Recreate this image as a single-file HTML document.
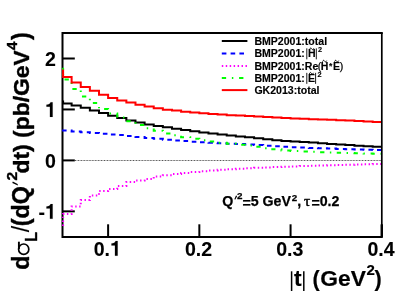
<!DOCTYPE html>
<html><head><meta charset="utf-8"><title>plot</title><style>html,body{margin:0;padding:0;background:#fff;}text{stroke:#000;stroke-width:0.4px;stroke-linejoin:round}.sm text{stroke-width:0.15px}.md text{stroke-width:0.25px}.tl text{stroke-width:0.1px}body{width:415px;height:291px;overflow:hidden;position:relative;font-family:"Liberation Sans",sans-serif;}</style></head><body>
<svg width="415" height="291" viewBox="0 0 415 291" style="position:absolute;left:0;top:0;will-change:transform;font-family:'Liberation Sans',sans-serif;font-weight:bold" stroke="none">
<rect width="415" height="291" fill="#fff"/>
<path d="M381.8,33.1 L62.5,33.1 L62.5,237.0 L381.8,237.0" fill="none" stroke="#000" stroke-width="2" stroke-linecap="square"/>
<line x1="75" y1="160.5" x2="381.8" y2="160.5" stroke="#c4c4c4" stroke-width="1"/>
<line x1="75" y1="160.5" x2="381.8" y2="160.5" stroke="#555" stroke-width="1" stroke-dasharray="1 1.9"/>
<line x1="62.5" y1="58.50" x2="74.8" y2="58.50" stroke="#000" stroke-width="2"/>
<line x1="62.5" y1="109.45" x2="74.8" y2="109.45" stroke="#000" stroke-width="2"/>
<line x1="62.5" y1="160.40" x2="74.8" y2="160.40" stroke="#000" stroke-width="2"/>
<line x1="62.5" y1="211.35" x2="74.8" y2="211.35" stroke="#000" stroke-width="2"/>
<line x1="108.11" y1="237.0" x2="108.11" y2="224.3" stroke="#000" stroke-width="2"/>
<line x1="199.34" y1="237.0" x2="199.34" y2="224.3" stroke="#000" stroke-width="2"/>
<line x1="290.57" y1="237.0" x2="290.57" y2="224.3" stroke="#000" stroke-width="2"/>
<line x1="381.80" y1="237.0" x2="381.80" y2="224.3" stroke="#000" stroke-width="2"/>
<clipPath id="c"><rect x="61.5" y="33.1" width="320.3" height="203.9"/></clipPath>
<line x1="63.1" y1="67.8" x2="63.1" y2="70" stroke="#00ff00" stroke-width="2"/>
<path d="M63.10,100.50 L63.10,103.40 L71.62,103.40 L71.62,105.60 L80.75,105.60 L80.75,107.80 L89.87,107.80 L89.87,110.40 L98.99,110.40 L98.99,113.10 L108.11,113.10 L108.11,115.80 L117.24,115.80 L117.24,117.90 L126.36,117.90 L126.36,120.50 L135.48,120.50 L135.48,122.50 L144.61,122.50 L144.61,124.50 L153.73,124.50 L153.73,125.90 L162.85,125.90 L162.85,127.20 L171.97,127.20 L171.97,128.70 L181.10,128.70 L181.10,130.02 L190.22,130.02 L190.22,131.26 L199.34,131.26 L199.34,132.42 L208.47,132.42 L208.47,133.52 L217.59,133.52 L217.59,134.54 L226.71,134.54 L226.71,135.52 L235.83,135.52 L235.83,136.43 L244.96,136.43 L244.96,137.30 L254.08,137.30 L254.08,138.29 L263.20,138.29 L263.20,139.23 L272.33,139.23 L272.33,140.13 L281.45,140.13 L281.45,141.00 L290.57,141.00 L290.57,141.56 L299.69,141.56 L299.69,142.10 L308.82,142.10 L308.82,142.60 L317.94,142.60 L317.94,143.26 L327.06,143.26 L327.06,143.89 L336.19,143.89 L336.19,144.50 L345.31,144.50 L345.31,145.09 L354.43,145.09 L354.43,145.66 L363.55,145.66 L363.55,146.22 L372.68,146.22 L372.68,146.75 L381.80,146.75" fill="none" stroke="#000" stroke-width="2" clip-path="url(#c)"/>
<path d="M63.10,129.50 L63.10,130.60 L71.62,130.60 L71.62,131.40 L80.75,131.40 L80.75,132.20 L89.87,132.20 L89.87,132.98 L98.99,132.98 L98.99,133.75 L108.11,133.75 L108.11,134.50 L117.24,134.50 L117.24,135.00 L126.36,135.00 L126.36,136.02 L135.48,136.02 L135.48,137.02 L144.61,137.02 L144.61,138.00 L153.73,138.00 L153.73,138.85 L162.85,138.85 L162.85,139.69 L171.97,139.69 L171.97,140.50 L181.10,140.50 L181.10,141.08 L190.22,141.08 L190.22,141.63 L199.34,141.63 L199.34,142.17 L208.47,142.17 L208.47,142.68 L217.59,142.68 L217.59,143.17 L226.71,143.17 L226.71,143.63 L235.83,143.63 L235.83,144.08 L244.96,144.08 L244.96,144.50 L254.08,144.50 L254.08,145.09 L263.20,145.09 L263.20,145.67 L272.33,145.67 L272.33,146.22 L281.45,146.22 L281.45,146.75 L290.57,146.75 L290.57,147.16 L299.69,147.16 L299.69,147.55 L308.82,147.55 L308.82,147.92 L317.94,147.92 L317.94,148.27 L327.06,148.27 L327.06,148.60 L336.19,148.60 L336.19,148.91 L345.31,148.91 L345.31,149.21 L354.43,149.21 L354.43,149.49 L363.55,149.49 L363.55,149.75 L372.68,149.75 L372.68,150.00 L381.80,150.00" fill="none" stroke="#0000ff" stroke-width="2" stroke-dasharray="4.6 4.2" stroke-dashoffset="0" clip-path="url(#c)"/>
<path d="M63.10,226.00 L63.10,214.00 L71.62,214.00 L71.62,206.50 L80.75,206.50 L80.75,200.00 L89.87,200.00 L89.87,195.50 L98.99,195.50 L98.99,191.00 L108.11,191.00 L108.11,189.00 L117.24,189.00 L117.24,186.00 L126.36,186.00 L126.36,182.00 L135.48,182.00 L135.48,180.50 L144.61,180.50 L144.61,179.00 L153.73,179.00 L153.73,176.50 L162.85,176.50 L162.85,175.14 L171.97,175.14 L171.97,173.95 L181.10,173.95 L181.10,172.91 L190.22,172.91 L190.22,171.99 L199.34,171.99 L199.34,171.19 L208.47,171.19 L208.47,170.47 L217.59,170.47 L217.59,169.83 L226.71,169.83 L226.71,169.25 L235.83,169.25 L235.83,168.73 L244.96,168.73 L244.96,168.26 L254.08,168.26 L254.08,167.84 L263.20,167.84 L263.20,167.44 L272.33,167.44 L272.33,167.08 L281.45,167.08 L281.45,166.75 L290.57,166.75 L290.57,166.40 L299.69,166.40 L299.69,166.07 L308.82,166.07 L308.82,165.76 L317.94,165.76 L317.94,165.46 L327.06,165.46 L327.06,165.17 L336.19,165.17 L336.19,164.90 L345.31,164.90 L345.31,164.64 L354.43,164.64 L354.43,164.38 L363.55,164.38 L363.55,164.14 L372.68,164.14 L372.68,163.90 L381.80,163.90" fill="none" stroke="#ff00ff" stroke-width="2" stroke-dasharray="1.45 2.5" stroke-dashoffset="0" clip-path="url(#c)"/>
<path d="M63.10,68.50 L63.10,79.50 L71.62,79.50 L71.62,88.90 L80.75,88.90 L80.75,96.60 L89.87,96.60 L89.87,103.00 L98.99,103.00 L98.99,109.00 L108.11,109.00 L108.11,113.60 L117.24,113.60 L117.24,117.50 L126.36,117.50 L126.36,121.30 L135.48,121.30 L135.48,125.00 L144.61,125.00 L144.61,128.30 L153.73,128.30 L153.73,130.70 L162.85,130.70 L162.85,133.40 L171.97,133.40 L171.97,135.30 L181.10,135.30 L181.10,137.13 L190.22,137.13 L190.22,138.77 L199.34,138.77 L199.34,140.23 L208.47,140.23 L208.47,141.54 L217.59,141.54 L217.59,142.71 L226.71,142.71 L226.71,143.76 L235.83,143.76 L235.83,144.70 L244.96,144.70 L244.96,145.50 L254.08,145.50 L254.08,146.86 L263.20,146.86 L263.20,148.14 L272.33,148.14 L272.33,149.35 L281.45,149.35 L281.45,150.50 L290.57,150.50 L290.57,151.00 L299.69,151.00 L299.69,151.45 L308.82,151.45 L308.82,151.86 L317.94,151.86 L317.94,152.23 L327.06,152.23 L327.06,152.55 L336.19,152.55 L336.19,152.85 L345.31,152.85 L345.31,153.11 L354.43,153.11 L354.43,153.35 L363.55,153.35 L363.55,153.56 L372.68,153.56 L372.68,153.75 L381.80,153.75" fill="none" stroke="#00ff00" stroke-width="2" stroke-dasharray="4.32 5.76 1.44 5.76" stroke-dashoffset="4.88" clip-path="url(#c)"/>
<path d="M63.10,69.50 L63.10,77.05 L71.62,77.05 L71.62,82.40 L80.75,82.40 L80.75,87.00 L89.87,87.00 L89.87,90.80 L98.99,90.80 L98.99,94.70 L108.11,94.70 L108.11,98.00 L117.24,98.00 L117.24,100.40 L126.36,100.40 L126.36,102.60 L135.48,102.60 L135.48,104.80 L144.61,104.80 L144.61,106.50 L153.73,106.50 L153.73,108.20 L162.85,108.20 L162.85,109.70 L171.97,109.70 L171.97,110.60 L181.10,110.60 L181.10,111.64 L190.22,111.64 L190.22,112.54 L199.34,112.54 L199.34,113.33 L208.47,113.33 L208.47,114.02 L217.59,114.02 L217.59,114.62 L226.71,114.62 L226.71,115.14 L235.83,115.14 L235.83,115.60 L244.96,115.60 L244.96,116.00 L254.08,116.00 L254.08,116.54 L263.20,116.54 L263.20,117.05 L272.33,117.05 L272.33,117.53 L281.45,117.53 L281.45,118.00 L290.57,118.00 L290.57,118.43 L299.69,118.43 L299.69,118.86 L308.82,118.86 L308.82,119.30 L317.94,119.30 L317.94,119.57 L327.06,119.57 L327.06,119.87 L336.19,119.87 L336.19,120.21 L345.31,120.21 L345.31,120.58 L354.43,120.58 L354.43,121.00 L363.55,121.00 L363.55,121.47 L372.68,121.47 L372.68,122.00 L381.80,122.00" fill="none" stroke="#ff0000" stroke-width="2" clip-path="url(#c)"/>
<line x1="381.8" y1="33.1" x2="381.8" y2="237.0" stroke="#000" stroke-width="1.7"/>
<line x1="381.8" y1="224.5" x2="381.8" y2="237.0" stroke="#000" stroke-width="2.2"/>
<g class="tl">
<text transform="translate(55.9,66.00) scale(0.95,1)" font-size="20.6" text-anchor="end">2</text>
<path d="M52.65,116.95 L49.91,116.95 L49.91,106.65 L46.43,106.65 L46.43,104.63 C48.74,104.59 50.15,103.77 50.58,102.20 L52.65,102.20 Z" fill="#000" stroke="#000" stroke-width="0.1"/>
<text transform="translate(55.9,167.90) scale(0.95,1)" font-size="20.6" text-anchor="end">0</text>
<path d="M52.65,218.85 L49.91,218.85 L49.91,208.55 L46.43,208.55 L46.43,206.53 C48.74,206.49 50.15,205.67 50.58,204.10 L52.65,204.10 Z" fill="#000" stroke="#000" stroke-width="0.1"/>
<text transform="translate(45.02,218.85) scale(0.95,1)" font-size="20.6" text-anchor="end">-</text>
<text transform="translate(93.71,255.7) scale(0.95,1)" font-size="20.6">0.</text>
<path d="M117.67,255.70 L114.93,255.70 L114.93,245.40 L111.44,245.40 L111.44,243.38 C113.75,243.34 115.16,242.52 115.59,240.95 L117.67,240.95 Z" fill="#000" stroke="#000" stroke-width="0.1"/>
<text transform="translate(198.54,255.7) scale(0.95,1)" font-size="20.6" text-anchor="middle">0.2</text>
<text transform="translate(289.77,255.7) scale(0.95,1)" font-size="20.6" text-anchor="middle">0.3</text>
<text transform="translate(381.00,255.7) scale(0.95,1)" font-size="20.6" text-anchor="middle">0.4</text>
</g>
<line x1="221.8" y1="41.0" x2="247.4" y2="41.0" stroke="#000" stroke-width="2"/>
<line x1="221.8" y1="53.6" x2="247.4" y2="53.6" stroke="#0000ff" stroke-width="2" stroke-dasharray="4.6 4.2"/>
<line x1="221.8" y1="65.9" x2="247.4" y2="65.9" stroke="#ff00ff" stroke-width="2" stroke-dasharray="1.45 2.5"/>
<line x1="221.8" y1="78.1" x2="247.4" y2="78.1" stroke="#00ff00" stroke-width="2" stroke-dasharray="4.32 5.76 1.44 5.76"/>
<line x1="221.8" y1="90.1" x2="247.4" y2="90.1" stroke="#ff0000" stroke-width="2"/>
<g font-size="10.55" class="sm">
<text x="254.4" y="44.75">BMP2001:total</text>
<text x="254.4" y="57.35">BMP2001:</text>
<line x1="306.8" y1="48.35" x2="306.8" y2="59.35" stroke="#000" stroke-width="0.9"/><text x="307.9" y="57.35">H</text><path d="M309.60,49.35 c0.84,-1.7 1.26,-1.7 2.10,-0.5 s1.26,1.2 2.10,-0.5" fill="none" stroke="#000" stroke-width="0.95"/><line x1="316.3" y1="48.35" x2="316.3" y2="59.35" stroke="#000" stroke-width="0.9"/>
<text x="318.1" y="52.050000000000004" font-size="7.3">2</text>
<text x="254.4" y="69.65">BMP2001:Re</text>
<text x="317.7" y="69.65" font-weight="normal" style="stroke-width:0.25px">(</text>
<text x="320.8" y="69.65">H</text><path d="M322.50,61.65 c0.84,-1.7 1.26,-1.7 2.10,-0.5 s1.26,1.2 2.10,-0.5" fill="none" stroke="#000" stroke-width="0.95"/>
<text x="329.0" y="69.05000000000001" font-size="8.5">*</text>
<text x="333.0" y="69.65">E</text><path d="M334.50,61.65 c0.84,-1.7 1.26,-1.7 2.10,-0.5 s1.26,1.2 2.10,-0.5" fill="none" stroke="#000" stroke-width="0.95"/>
<text x="339.8" y="69.65" font-weight="normal" style="stroke-width:0.25px">)</text>
<text x="254.4" y="81.85">BMP2001:</text>
<line x1="306.8" y1="72.85" x2="306.8" y2="83.85" stroke="#000" stroke-width="0.9"/><text x="307.9" y="81.85">E</text><path d="M309.30,73.85 c0.84,-1.7 1.26,-1.7 2.10,-0.5 s1.26,1.2 2.10,-0.5" fill="none" stroke="#000" stroke-width="0.95"/><line x1="315.6" y1="72.85" x2="315.6" y2="83.85" stroke="#000" stroke-width="0.9"/>
<text x="317.4" y="76.75" font-size="7.3">2</text>
<text x="254.4" y="93.85">GK2013:total</text>
</g>
<g font-size="14.2" class="md">
<text x="222.2" y="205.85">Q</text>
<path d="M234.3,199.3 L235.4,199.5 L237.2,196.0 L236.0,195.6 Z" fill="#000"/>
<text x="237.1" y="199.1" font-size="9.8">2</text>
<text x="242.4" y="208.15">=</text>
<text x="250.69" y="205.85">5 GeV</text>
<text x="291.8" y="200.5" font-size="9.8">2</text>
<text x="297.2" y="205.85">,</text>
<text x="304.0" y="205.85" font-family="Liberation Serif" font-weight="normal" font-size="15.5" style="stroke-width:0.5px">τ</text>
<text x="311.4" y="208.15">=</text>
<text x="319.69" y="205.85">0.2</text>
</g>
<line x1="291.6" y1="271.3" x2="291.6" y2="291" stroke="#000" stroke-width="1.5"/>
<line x1="303.8" y1="271.3" x2="303.8" y2="291" stroke="#000" stroke-width="1.5"/>
<text x="293.9" y="286.3" font-size="22.8" style="stroke-width:0.2px">t</text>
<text x="312.6" y="285.7" font-size="21.5" style="stroke-width:0.2px">(</text>
<text x="320.3" y="286.3" font-size="22.8" style="stroke-width:0.2px">GeV</text>
<text x="366.5" y="274.5" font-size="15" style="stroke-width:0.2px">2</text>
<text x="374.6" y="285.7" font-size="21.5" style="stroke-width:0.2px">)</text>
<g transform="translate(29.2,271) rotate(-90)" font-size="23.3">
<text x="1.3" y="0">d</text>
<ellipse cx="21.8" cy="-5.5" rx="5.2" ry="5.1" fill="none" stroke="#000" stroke-width="1.7"/><path d="M22.0,-10.3 L29.3,-10.3" stroke="#000" stroke-width="1.9" fill="none"/>
<text x="29.3" y="7.5" font-size="16.0">L</text>
<text x="84.8" y="0" text-anchor="end">(dQ</text>
<text x="38.7" y="0" font-weight="normal" style="stroke-width:0.1px">/</text>
<path d="M85.6,-11.3 L87.1,-11.6 L89.4,-16.4 L88.0,-16.9 Z" fill="#000"/>
<text x="90.4" y="-11.9" font-size="15.5">2</text>
<text x="97.5" y="0" font-size="22.9">dt) (pb/GeV</text>
<text x="221" y="-12" font-size="15">4</text>
<text x="230.9" y="0">)</text>
</g>
</svg>
</body></html>
